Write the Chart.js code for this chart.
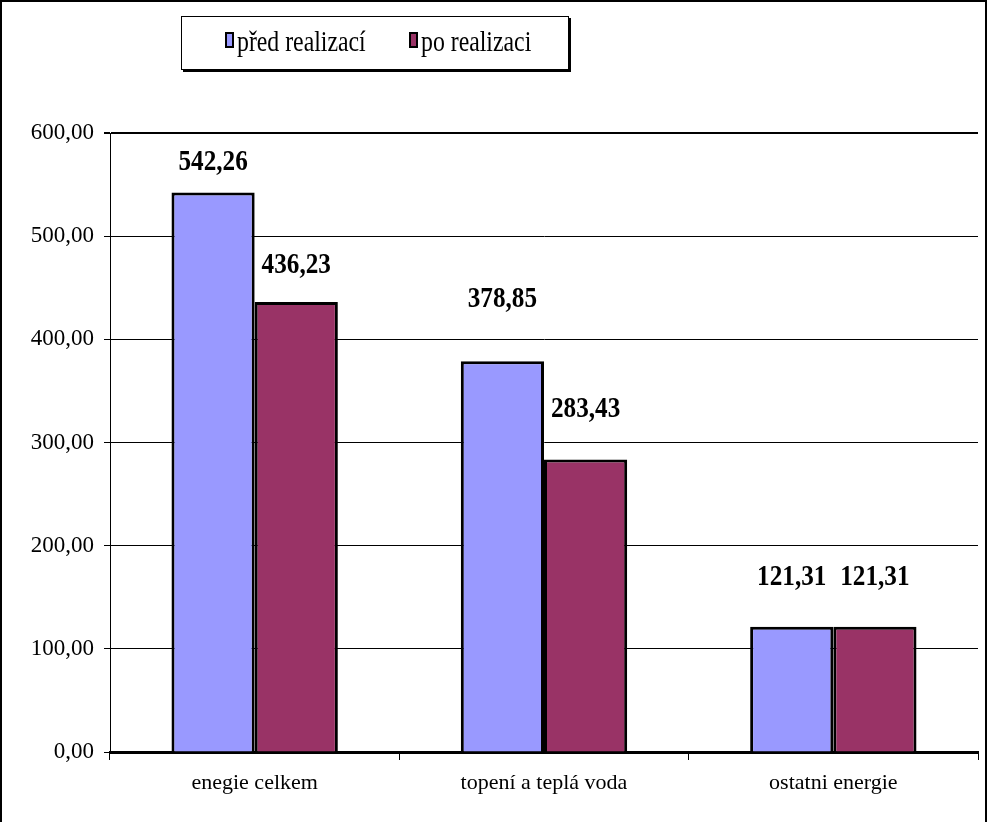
<!DOCTYPE html>
<html>
<head>
<meta charset="utf-8">
<script src="https://cdn.jsdelivr.net/npm/chart.js@4"></script>
<style>
  html, body { margin: 0; padding: 0; background: #fff; }
  #wrap { width: 989px; height: 822px; position: relative; }
</style>
</head>
<body>
<div id="wrap"><canvas id="graf"></canvas></div>
<script>
const kategorie = ['enegie celkem', 'topení a teplá voda', 'ostatni energie'];
const predRealizaci = [542.26, 378.85, 121.31];
const poRealizaci = [436.23, 283.43, 121.31];
const nazvySerii = ['před realizací', 'po realizaci'];
const barvySerii = ['#9999FF', '#993366'];

const FONT = '"Liberation Serif", "Times New Roman", serif';
const carka = v => v.toFixed(2).replace('.', ',');

// vzdálenost popisku nad sloupcem (jako v Excelu)
const odsazeni = [[30, 37], [62, 50], [50, 50]];

// zúžené písmo jako v originále
function uzkyText(ctx, text, x, y, sx) {
    ctx.save();
    ctx.translate(x, y);
    ctx.scale(sx, 1);
    ctx.fillText(text, 0, 0);
    ctx.restore();
}

const popisky = {
    id: 'popisky',
    afterDatasetsDraw(chart) {
        const ctx = chart.ctx;
        ctx.save();
        ctx.font = 'bold 30px ' + FONT;
        ctx.fillStyle = '#000';
        ctx.textAlign = 'center';
        ctx.textBaseline = 'middle';
        chart.data.datasets.forEach((ds, i) => {
            chart.getDatasetMeta(i).data.forEach((bar, j) => {
                uzkyText(ctx, carka(ds.data[j]), bar.x, bar.y - odsazeni[j][i], 0.84);
            });
        });
        ctx.restore();
    }
};

const legendaRamec = {
    id: 'legendaRamec',
    afterDraw(chart) {
        const ctx = chart.ctx;
        ctx.save();
        // okraj celého grafu
        ctx.strokeStyle = '#000';
        ctx.lineWidth = 2;
        ctx.beginPath();
        ctx.moveTo(1, 822);
        ctx.lineTo(1, 1);
        ctx.lineTo(986, 1);
        ctx.lineTo(986, 822);
        ctx.stroke();

        // legenda
        const x = 181, y = 16, w = 388, h = 54;
        ctx.fillStyle = '#000';
        ctx.fillRect(x + 2, y + 2, w, h);
        ctx.fillStyle = '#fff';
        ctx.fillRect(x, y, w, h);
        ctx.lineWidth = 1;
        ctx.strokeRect(x + 0.5, y + 0.5, w - 1, h - 1);

        ctx.font = '29px ' + FONT;
        ctx.textBaseline = 'middle';
        ctx.textAlign = 'left';
        const pozice = [226, 410];
        chart.data.datasets.forEach((ds, i) => {
            const px = pozice[i];
            ctx.fillStyle = ds.backgroundColor;
            ctx.fillRect(px, 33, 7, 14);
            ctx.strokeStyle = '#000';
            ctx.lineWidth = 2;
            ctx.strokeRect(px, 33, 7, 14);
            ctx.fillStyle = '#000';
            uzkyText(ctx, ds.label, px + 11, 43, 0.82);
        });
        ctx.restore();
    }
};

new Chart(document.getElementById('graf'), {
    type: 'bar',
    data: {
        labels: kategorie,
        datasets: [
            { label: nazvySerii[0], data: predRealizaci, backgroundColor: barvySerii[0], borderColor: '#000', borderWidth: 3, borderSkipped: 'bottom' },
            { label: nazvySerii[1], data: poRealizaci, backgroundColor: barvySerii[1], borderColor: '#000', borderWidth: 3, borderSkipped: 'bottom' }
        ]
    },
    options: {
        responsive: true,
        maintainAspectRatio: false,
        devicePixelRatio: 1,
        animation: false,
        layout: { padding: { top: 133, right: 11, left: 0, bottom: 0 } },
        datasets: { bar: { categoryPercentage: 0.575, barPercentage: 1 } },
        plugins: {
            legend: { display: false },
            tooltip: { enabled: false }
        },
        scales: {
            x: {
                afterFit: s => { s.height = 70; },
                grid: { display: true, drawOnChartArea: false, offset: true, color: '#000', tickLength: 8, lineWidth: 1 },
                border: { color: '#000', width: 3 },
                ticks: { color: '#000', font: { family: FONT, size: 22 }, padding: 10 }
            },
            y: {
                min: 0,
                max: 600,
                afterFit: s => { s.width = 110; },
                grid: { color: '#000', lineWidth: c => (c.tick.value === 600 ? 2 : 1), tickLength: 6 },
                border: { color: '#000', width: 1 },
                ticks: {
                    stepSize: 100,
                    color: '#000',
                    font: { family: FONT, size: 23 },
                    padding: 10,
                    callback: v => carka(v)
                }
            }
        }
    },
    plugins: [popisky, legendaRamec]
});
</script>
</body>
</html>
